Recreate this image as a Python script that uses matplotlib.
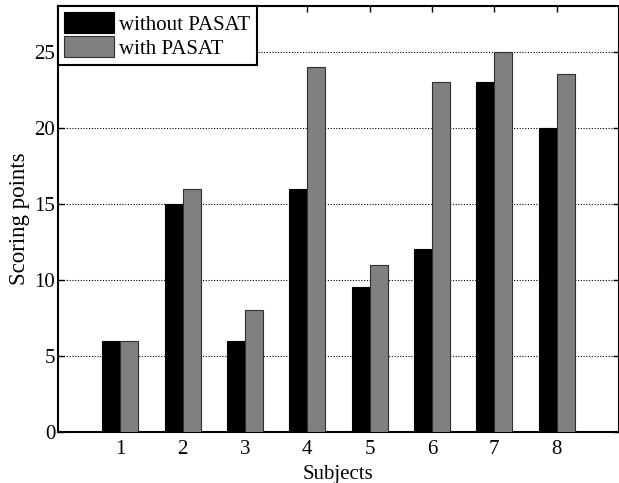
import matplotlib
matplotlib.use("Agg")
import matplotlib.pyplot as plt
import numpy as np

subjects = [1, 2, 3, 4, 5, 6, 7, 8]
without_pasat = [6, 15, 6, 16, 9.5, 12, 23, 20]
with_pasat = [6, 16, 8, 24, 11, 23, 25, 23.5]
series_labels = ["without PASAT", "with PASAT"]
yticks = [0, 5, 10, 15, 20, 25]

plt.rcParams['font.family'] = ['Liberation Serif', 'DejaVu Serif']
plt.rcParams['font.size'] = 15

fig = plt.figure(figsize=(6.19, 4.83), dpi=100)
ax = fig.add_axes([58/619, 1 - 432/483, (619 - 58)/619, (432 - 6)/483])

x = np.array(subjects, dtype=float)
w = 0.29
ax.bar(x - w/2, without_pasat, width=w, color='black', edgecolor='black',
       linewidth=0.8, label=series_labels[0], zorder=3)
ax.bar(x + w/2, with_pasat, width=w, color='#808080', edgecolor='#303030',
       linewidth=0.8, label=series_labels[1], zorder=3)

ax.set_xlim(0, 9)
ax.set_ylim(0, 28)
ax.set_xticks(subjects)
ax.set_yticks(yticks)
ax.yaxis.grid(True, linestyle=(0, (1, 1.5)), color='black', linewidth=0.8, zorder=0)
ax.set_axisbelow(True)

ax.tick_params(direction='in', length=4, width=1, top=True, right=True,
               labelsize=15)
ax.tick_params(axis='y', pad=2)
ax.tick_params(axis='x', pad=6)
for s in ax.spines.values():
    s.set_linewidth(1.5)

ax.set_xlabel("Subjects", fontsize=15, labelpad=4)
ax.set_ylabel("Scoring points", fontsize=16.5, labelpad=3)

leg = ax.legend(loc='upper left', bbox_to_anchor=(0, 1), borderaxespad=0,
                fancybox=False, framealpha=1, edgecolor='black',
                handlelength=2.4, handleheight=1.18, handletextpad=0.25,
                labelspacing=0.06, borderpad=0.3, fontsize=15)
leg.get_frame().set_linewidth(1.5)
for p in leg.get_patches():
    p.set_linewidth(0.8)

fig.savefig("out.png", dpi=100)
